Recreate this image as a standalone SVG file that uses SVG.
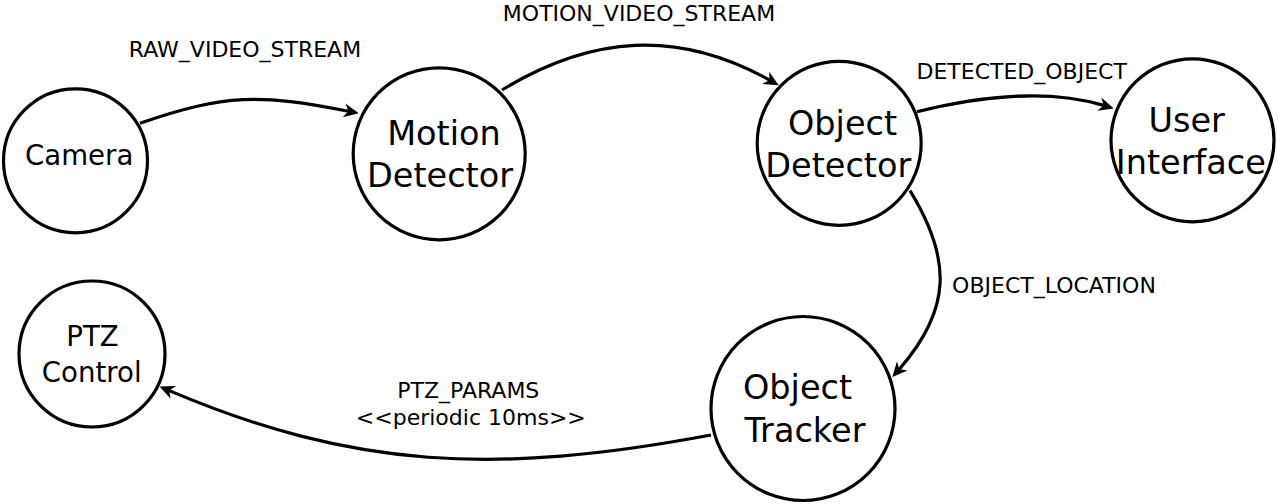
<svg xmlns="http://www.w3.org/2000/svg" width="1278" height="504" viewBox="0 0 1278 504">
<style>
.node{fill:#fff;stroke:#000;stroke-width:3.2}
.big{font-family:"DejaVu Sans",sans-serif;font-size:33.5px;fill:#000;text-anchor:middle}
.mid{font-family:"DejaVu Sans",sans-serif;font-size:27.6px;fill:#000;text-anchor:middle}
.lbl{font-family:"DejaVu Sans",sans-serif;font-size:22px;fill:#000;text-anchor:middle}
.edge{fill:none;stroke:#000;stroke-width:3.2;marker-end:url(#arr)}
</style>
<defs>
<marker id="arr" markerUnits="userSpaceOnUse" markerWidth="20" markerHeight="20" refX="4.5" refY="0" viewBox="0 -10 20 20" orient="auto" overflow="visible">
<path d="M15,0 L0,-7 L4.5,0 L0,7 Z" fill="#000"/>
</marker>
</defs>
<rect width="1278" height="504" fill="#fff"/>
<g id="connectors">
<path class="edge" d="M140,123.3 C225,93.9 260.2,93.7 348.5,111.3"/>
<path class="edge" d="M502,90 C591.7,35.3 677.8,29.1 769.6,80.1"/>
<path class="edge" d="M917,111.7 C975.2,97.1 1046.2,88.2 1103.7,105.4"/>
<path class="edge" d="M910,190.7 C951.8,258.9 952,308.9 899.3,369.2"/>
<path class="edge" d="M711,435 C494.7,475.5 353.2,468.6 169.2,390.6"/>
<text class="lbl" x="245" y="57.3">RAW_VIDEO_STREAM</text>
<text class="lbl" x="639" y="20.7">MOTION_VIDEO_STREAM</text>
<text class="lbl" x="1021.7" y="79">DETECTED_OBJECT</text>
<text class="lbl" x="1054" y="293.3">OBJECT_LOCATION</text>
<text class="lbl" x="468.3" y="398.3">PTZ_PARAMS</text>
<text class="lbl" x="470.8" y="425">&lt;&lt;periodic 10ms&gt;&gt;</text>
</g>
<g id="camera">
<circle class="node" cx="75.5" cy="160.8" r="72"/>
<text class="mid" x="79.2" y="165">Camera</text>
</g>
<g id="motion-detector">
<circle class="node" cx="439.2" cy="153.8" r="86"/>
<text class="big" x="444" y="145">Motion</text>
<text class="big" x="440" y="186.7">Detector</text>
</g>
<g id="object-detector">
<circle class="node" cx="839.2" cy="143.3" r="82"/>
<text class="big" x="842.5" y="135">Object</text>
<text class="big" x="838.3" y="177">Detector</text>
</g>
<g id="user-interface">
<circle class="node" cx="1192.5" cy="140.3" r="81.5"/>
<text class="big" x="1186.7" y="131.7">User</text>
<text class="big" x="1190.8" y="174.3">Interface</text>
</g>
<g id="ptz-control">
<circle class="node" cx="92" cy="354" r="73"/>
<text class="mid" x="92.5" y="346">PTZ</text>
<text class="mid" x="91.7" y="381.7">Control</text>
</g>
<g id="object-tracker">
<circle class="node" cx="803" cy="408.5" r="92"/>
<text class="big" x="797.5" y="399">Object</text>
<text class="big" x="805" y="442">Tracker</text>
</g>
</svg>
